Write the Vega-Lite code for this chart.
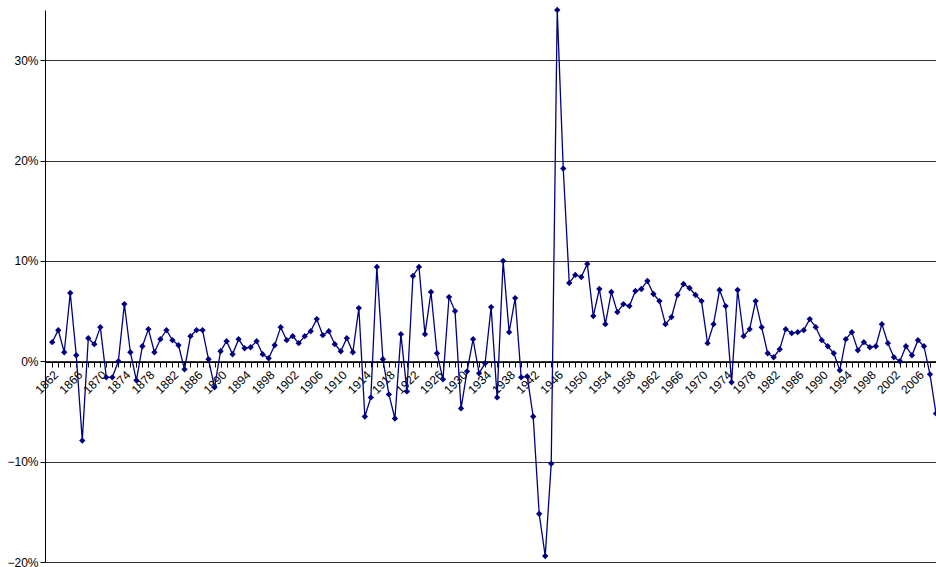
{
  "$schema": "https://vega.github.io/schema/vega-lite/v6.json",
  "autosize": "none",
  "width": 891,
  "height": 552,
  "padding": {"left": 45, "top": 10, "right": 0, "bottom": 5},
  "background": "white",
  "config": {"view": {"stroke": null}, "font": "Liberation Sans"},
  "data": {"values": [
    {"year":1862,"v":1.9},{"year":1863,"v":3.1},{"year":1864,"v":0.9},{"year":1865,"v":6.8},{"year":1866,"v":0.6},
    {"year":1867,"v":-7.9},{"year":1868,"v":2.3},{"year":1869,"v":1.7},{"year":1870,"v":3.4},{"year":1871,"v":-1.6},
    {"year":1872,"v":-1.6},{"year":1873,"v":0.0},{"year":1874,"v":5.7},{"year":1875,"v":0.9},{"year":1876,"v":-1.9},
    {"year":1877,"v":1.5},{"year":1878,"v":3.2},{"year":1879,"v":0.9},{"year":1880,"v":2.2},{"year":1881,"v":3.1},
    {"year":1882,"v":2.1},{"year":1883,"v":1.6},{"year":1884,"v":-0.8},{"year":1885,"v":2.5},{"year":1886,"v":3.1},
    {"year":1887,"v":3.1},{"year":1888,"v":0.2},{"year":1889,"v":-2.6},{"year":1890,"v":1.0},{"year":1891,"v":2.0},
    {"year":1892,"v":0.7},{"year":1893,"v":2.2},{"year":1894,"v":1.3},{"year":1895,"v":1.4},{"year":1896,"v":2.0},
    {"year":1897,"v":0.7},{"year":1898,"v":0.3},{"year":1899,"v":1.6},{"year":1900,"v":3.4},{"year":1901,"v":2.1},
    {"year":1902,"v":2.5},{"year":1903,"v":1.8},{"year":1904,"v":2.5},{"year":1905,"v":3.0},{"year":1906,"v":4.2},
    {"year":1907,"v":2.6},{"year":1908,"v":3.0},{"year":1909,"v":1.7},{"year":1910,"v":1.0},{"year":1911,"v":2.3},
    {"year":1912,"v":0.9},{"year":1913,"v":5.3},{"year":1914,"v":-5.5},{"year":1915,"v":-3.6},{"year":1916,"v":9.4},
    {"year":1917,"v":0.2},{"year":1918,"v":-3.3},{"year":1919,"v":-5.7},{"year":1920,"v":2.7},{"year":1921,"v":-3.0},
    {"year":1922,"v":8.5},{"year":1923,"v":9.4},{"year":1924,"v":2.7},{"year":1925,"v":6.9},{"year":1926,"v":0.8},
    {"year":1927,"v":-1.8},{"year":1928,"v":6.4},{"year":1929,"v":5.0},{"year":1930,"v":-4.7},{"year":1931,"v":-1.0},
    {"year":1932,"v":2.2},{"year":1933,"v":-1.2},{"year":1934,"v":-0.2},{"year":1935,"v":5.4},{"year":1936,"v":-3.6},
    {"year":1937,"v":10.0},{"year":1938,"v":2.9},{"year":1939,"v":6.3},{"year":1940,"v":-1.6},{"year":1941,"v":-1.5},
    {"year":1942,"v":-5.5},{"year":1943,"v":-15.2},{"year":1944,"v":-19.4},{"year":1945,"v":-10.2},{"year":1946,"v":35.0},
    {"year":1947,"v":19.2},{"year":1948,"v":7.8},{"year":1949,"v":8.6},{"year":1950,"v":8.4},{"year":1951,"v":9.7},
    {"year":1952,"v":4.5},{"year":1953,"v":7.2},{"year":1954,"v":3.7},{"year":1955,"v":6.9},{"year":1956,"v":4.9},
    {"year":1957,"v":5.7},{"year":1958,"v":5.5},{"year":1959,"v":7.0},{"year":1960,"v":7.2},{"year":1961,"v":8.0},
    {"year":1962,"v":6.7},{"year":1963,"v":6.0},{"year":1964,"v":3.7},{"year":1965,"v":4.4},{"year":1966,"v":6.6},
    {"year":1967,"v":7.7},{"year":1968,"v":7.3},{"year":1969,"v":6.6},{"year":1970,"v":6.0},{"year":1971,"v":1.8},
    {"year":1972,"v":3.7},{"year":1973,"v":7.1},{"year":1974,"v":5.5},{"year":1975,"v":-2.1},{"year":1976,"v":7.1},
    {"year":1977,"v":2.5},{"year":1978,"v":3.2},{"year":1979,"v":6.0},{"year":1980,"v":3.4},{"year":1981,"v":0.8},
    {"year":1982,"v":0.4},{"year":1983,"v":1.2},{"year":1984,"v":3.2},{"year":1985,"v":2.8},{"year":1986,"v":2.9},
    {"year":1987,"v":3.1},{"year":1988,"v":4.2},{"year":1989,"v":3.4},{"year":1990,"v":2.1},{"year":1991,"v":1.5},
    {"year":1992,"v":0.8},{"year":1993,"v":-0.9},{"year":1994,"v":2.2},{"year":1995,"v":2.9},{"year":1996,"v":1.1},
    {"year":1997,"v":1.9},{"year":1998,"v":1.4},{"year":1999,"v":1.5},{"year":2000,"v":3.7},{"year":2001,"v":1.8},
    {"year":2002,"v":0.4},{"year":2003,"v":0.0},{"year":2004,"v":1.5},{"year":2005,"v":0.6},{"year":2006,"v":2.1},
    {"year":2007,"v":1.5},{"year":2008,"v":-1.3},{"year":2009,"v":-5.2}
  ]},
  "transform": [{"calculate": "datum.v / 100", "as": "pct"}],
  "encoding": {
    "x": {
      "field": "year", "type": "quantitative",
      "scale": {"domain": [1860.8, 2009], "nice": false, "zero": false},
      "axis": {
        "title": null, "tickCount": 150, "values": [1862,1863,1864,1865,1866,1867,1868,1869,1870,1871,1872,1873,1874,1875,1876,1877,1878,1879,1880,1881,1882,1883,1884,1885,1886,1887,1888,1889,1890,1891,1892,1893,1894,1895,1896,1897,1898,1899,1900,1901,1902,1903,1904,1905,1906,1907,1908,1909,1910,1911,1912,1913,1914,1915,1916,1917,1918,1919,1920,1921,1922,1923,1924,1925,1926,1927,1928,1929,1930,1931,1932,1933,1934,1935,1936,1937,1938,1939,1940,1941,1942,1943,1944,1945,1946,1947,1948,1949,1950,1951,1952,1953,1954,1955,1956,1957,1958,1959,1960,1961,1962,1963,1964,1965,1966,1967,1968,1969,1970,1971,1972,1973,1974,1975,1976,1977,1978,1979,1980,1981,1982,1983,1984,1985,1986,1987,1988,1989,1990,1991,1992,1993,1994,1995,1996,1997,1998,1999,2000,2001,2002,2003,2004,2005,2006,2007,2008,2009],
        "labelExpr": "(datum.value - 1862) % 4 == 0 ? datum.label : ''",
        "format": "d", "labelAngle": -45, "labelAlign": "right", "labelBaseline": "top",
        "labelFontSize": 12, "labelColor": "black", "offset": -200,
        "labelOverlap": false, "labelFlush": false,
        "grid": false, "domainColor": "black", "tickColor": "black", "tickSize": 5, "labelPadding": 2
      }
    },
    "y": {
      "field": "pct", "type": "quantitative",
      "scale": {"domain": [-0.2, 0.35], "nice": false},
      "axis": {
        "title": null, "format": "0%", "values": [-0.2, -0.1, 0, 0.1, 0.2, 0.3],
        "labelFontSize": 12, "labelColor": "black", "domainColor": "black",
        "tickColor": "black", "tickSize": 5, "gridColor": "black", "gridOpacity": 0.8
      }
    }
  },
  "layer": [
    {"mark": {"type": "line", "color": "#000080", "strokeWidth": 1.3}},
    {"mark": {"type": "point", "shape": "diamond", "filled": true, "color": "#000080", "size": 40, "opacity": 1}}
  ]
}
